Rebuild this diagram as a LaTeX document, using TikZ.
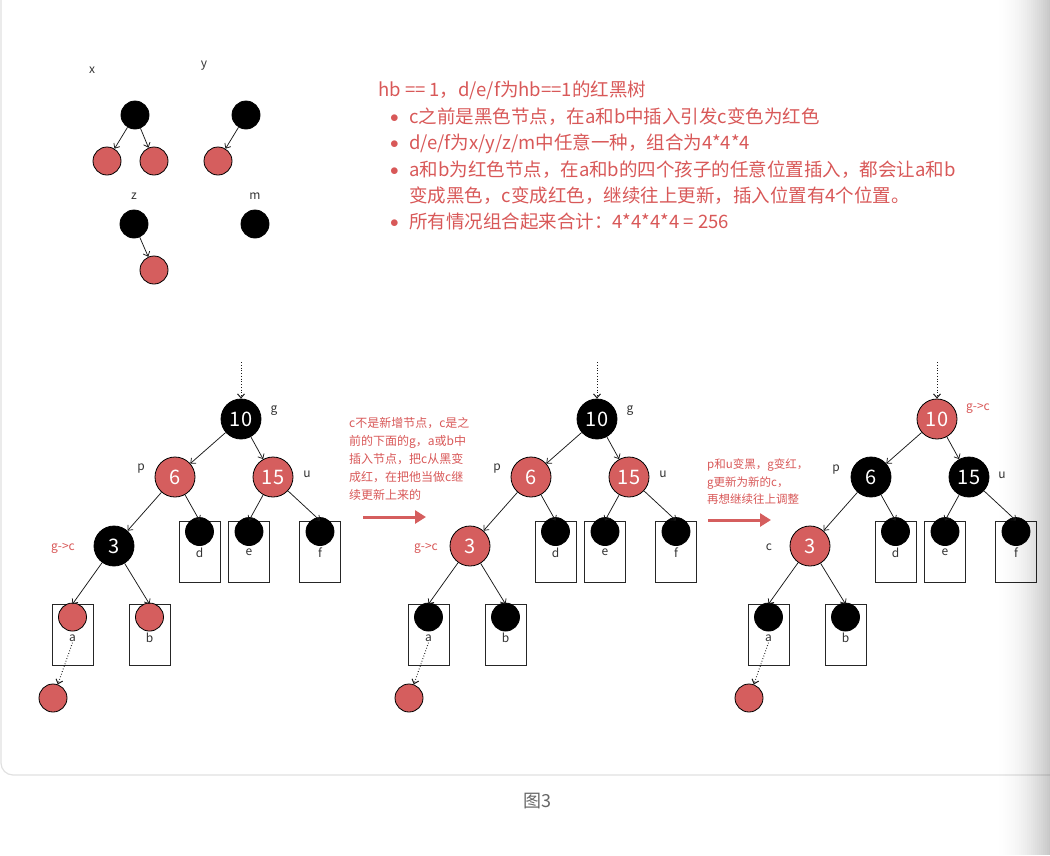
\documentclass[tikz,border=0pt]{standalone}
\usepackage{fontspec}
\setmainfont{Noto Sans CJK SC}
\usetikzlibrary{positioning, arrows.meta, calc}
\definecolor{rbred}{RGB}{213,94,94}
\definecolor{txtred}{RGB}{216,88,88}
\definecolor{ink}{RGB}{51,51,51}
\tikzset{
  arr/.style={-{Straight Barb[length=4pt,width=7pt]}, line width=0.75pt, draw=black!90},
  darr/.style={arr, dotted, line width=1pt},
  bigarr/.style={-{Triangle[length=11pt,width=13pt]}, line width=3pt, draw=rbred},
  sn/.style={circle, draw=black, line width=0.8pt, inner sep=0pt, minimum size=28pt},
  kn/.style={circle, draw=black, line width=0.8pt, inner sep=0pt, minimum size=40pt,
    text=white, font=\fontsize{20}{20}\selectfont},
  leaf/.style={draw=black!85, line width=0.9pt, minimum width=41pt, minimum height=61pt, inner sep=0pt},
  lab/.style={text=ink, font=\fontsize{12}{12}\selectfont, inner sep=1pt},
  note/.style={text=txtred, align=left, anchor=north west, inner sep=0pt}
}
\newcommand{\dotitem}{\hspace*{12pt}\makebox[19pt][l]{\raisebox{1pt}{$\bullet$}}}

\begin{document}
\begin{tikzpicture}[x=1pt, y=-1pt]
\useasboundingbox (0,0) rectangle (1050,855);
\draw[black!12, line width=1.2pt, rounded corners=12pt] (1,-30) |- (1080,775);

% the four trees with hb == 1
\node[lab] (lx) at (92,70) {x};
\node[sn, fill=black] (x0) at (135,115) {};
\node[sn, fill=rbred] (x1) at (107,161) {};
\node[sn, fill=rbred] (x2) at (154,161) {};
\draw[arr] (x0) -- (x1);
\draw[arr] (x0) -- (x2);
\node[lab] (ly) at (204,66) {y};
\node[sn, fill=black] (y0) at (246,115) {};
\node[sn, fill=rbred] (y1) at (218,161) {};
\draw[arr] (y0) -- (y1);
\node[lab] (lz) at (134,196) {z};
\node[sn, fill=black] (z0) at (134,224) {};
\node[sn, fill=rbred] (z1) at (154,270) {};
\draw[arr] (z0) -- (z1);
\node[lab] (lm) at (255,196) {m};
\node[sn, fill=black] (m0) at (255,224) {};

\node[note, font=\fontsize{18.5}{26.4}\selectfont] (info) at (378,81)
  {hb == 1，d/e/f为hb==1的红黑树\\
   \dotitem c之前是黑色节点，在a和b中插入引发c变色为红色\\
   \dotitem d/e/f为x/y/z/m中任意一种，组合为4*4*4\\
   \dotitem a和b为红色节点，在a和b的四个孩子的任意位置插入，都会让a和b\\
   \hspace*{31pt}变成黑色，c变成红色，继续往上更新，插入位置有4个位置。\\
   \dotitem 所有情况组合起来合计：4*4*4*4 = 256};

% the three steps
\foreach \t/\dx/\cg/\cp/\cc/\ck in {1/0/black/rbred/black/rbred,
    2/356/black/rbred/rbred/black, 3/696/rbred/black/rbred/black}{
  \coordinate (top\t) at (241+\dx,362);
  \node[kn, fill=\cg] (g\t) at (241+\dx,419) {10};
  \node[kn, fill=\cp] (p\t) at (175+\dx,477) {6};
  \node[kn, fill=\cp] (u\t) at (273+\dx,477) {15};
  \node[kn, fill=\cc] (c\t) at (114+\dx,546) {3};
  \foreach \n/\x/\y/\f/\s in {d/199.5/551.5/black/11, e/249/551.5/black/11,
      f/320/551.5/black/11, a/72.5/635/\ck/13, b/149.5/635/\ck/13}{
    \node[leaf] (\n\t) at (\x+\dx,\y) {};
    \node[lab] (l\n\t) at ($(\n\t.north)+(0,\s+21)$) {\n};
    \node[sn, fill=\f] (k\n\t) at ($(\n\t.north)+(0,\s)$) {};
  }
  \node[sn, fill=rbred] (new\t) at (53+\dx,698) {};
  \draw[darr] (top\t) -- (g\t);
  \draw[arr] (g\t) -- (p\t);
  \draw[arr] (g\t) -- (u\t);
  \draw[arr] (p\t) -- (c\t);
  \draw[arr] (p\t) -- (d\t.north);
  \draw[arr] (u\t) -- (e\t.north);
  \draw[arr] (u\t) -- (f\t.north);
  \draw[arr] (c\t) -- (a\t.north);
  \draw[arr] (c\t) -- (b\t.north);
  \draw[darr] (la\t.south) -- (new\t);
}
\node[lab] (lg1) at ($(g1)+(33,-8)$) {g};
\node[lab] (lp1) at ($(p1)+(-34,-8)$) {p};
\node[lab] (lu1) at ($(u1)+(34,-3)$) {u};
\node[lab, text=txtred] (lc1) at (63,548) {g->c};
\node[lab] (lg2) at ($(g2)+(33,-8)$) {g};
\node[lab] (lp2) at ($(p2)+(-34,-8)$) {p};
\node[lab] (lu2) at ($(u2)+(34,-3)$) {u};
\node[lab, text=txtred] (lc2) at (426,548) {g->c};
\node[lab, text=txtred] (lg3) at ($(g3)+(41,-11)$) {g->c};
\node[lab] (lp3) at ($(p3)+(-35,-7)$) {p};
\node[lab] (lu3) at ($(u3)+(33,-2)$) {u};
\node[lab] (lc3) at ($(c3)+(-41,1)$) {c};

\node[note, font=\fontsize{12}{18}\selectfont] (n1) at (349,417)
  {c不是新增节点，c是之\\前的下面的g，a或b中\\插入节点，把c从黑变\\成红，在把他当做c继\\续更新上来的};
\coordinate (s1) at (363,517);
\coordinate (e1) at (426,517);
\draw[bigarr] (s1) -- (e1);
\node[note, font=\fontsize{11.5}{17.5}\selectfont] (n2) at (707,459)
  {p和u变黑，g变红，\\g更新为新的c，\\再想继续往上调整};
\coordinate (s2) at (708,520);
\coordinate (e2) at (771,520);
\draw[bigarr] (s2) -- (e2);

\node[text=black!60, font=\fontsize{18}{18}\selectfont] (cap) at (537,801) {图3};
% shadow at the right edge
\foreach \i [evaluate=\i as \op using 0.22*(\i/28)^2] in {1,...,28}
  \fill[black, fill opacity=\op] (993+\i*2,0) rectangle +(2,855);
\end{tikzpicture}
\end{document}
